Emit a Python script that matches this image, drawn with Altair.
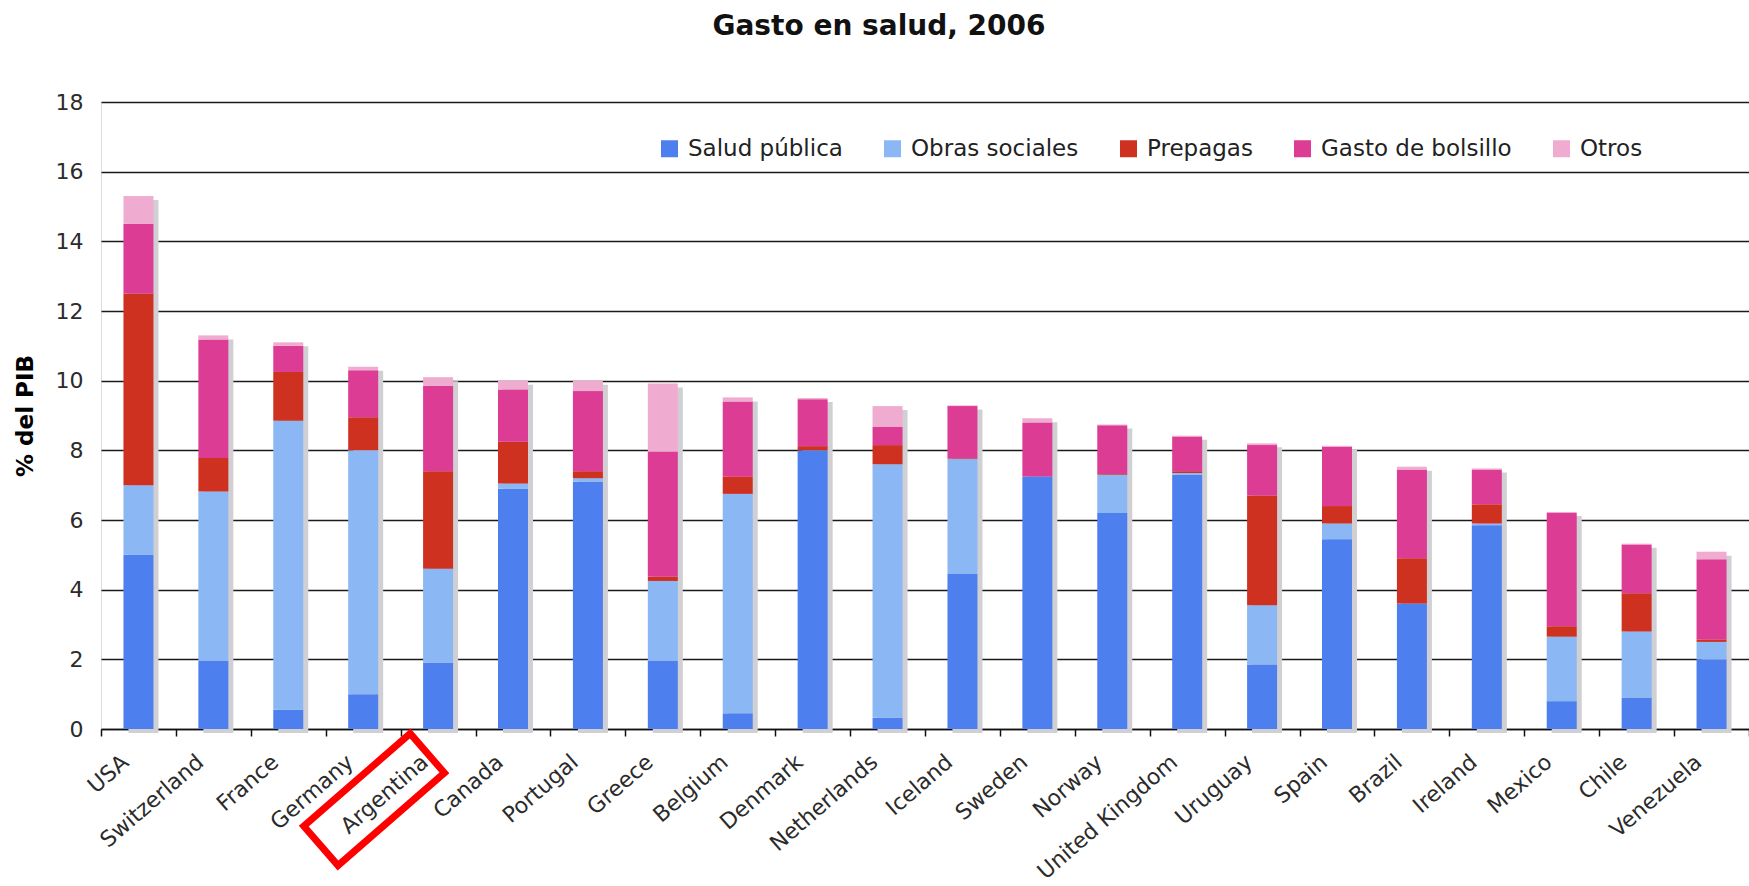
import altair as alt
import pandas as pd

countries = ["USA", "Switzerland", "France", "Germany", "Argentina", "Canada", "Portugal",
             "Greece", "Belgium", "Denmark", "Netherlands", "Iceland", "Sweden", "Norway",
             "United Kingdom", "Uruguay", "Spain", "Brazil", "Ireland", "Mexico", "Chile", "Venezuela"]
categories = ["Salud pública", "Obras sociales", "Prepagas", "Gasto de bolsillo", "Otros"]
colors = ["#4d7fee", "#8bb7f4", "#cf3121", "#dc3c93", "#efacd0"]

salud_publica = [5.0, 1.95, 0.55, 1.0, 1.9, 6.9, 7.1, 1.95, 0.45, 8.0, 0.32, 4.45, 7.25, 6.2, 7.3, 1.85, 5.45, 3.6, 5.85, 0.8, 0.9, 2.0]
obras_sociales = [2.0, 4.87, 8.3, 7.0, 2.7, 0.15, 0.1, 2.3, 6.3, 0.0, 7.28, 3.3, 0.0, 1.1, 0.05, 1.7, 0.45, 0.0, 0.05, 1.85, 1.9, 0.5]
prepagas = [5.5, 0.96, 1.4, 0.95, 2.8, 1.2, 0.2, 0.12, 0.5, 0.12, 0.55, 0.02, 0.0, 0.02, 0.05, 3.15, 0.5, 1.3, 0.55, 0.3, 1.1, 0.07]
gasto_bolsillo = [2.0, 3.4, 0.75, 1.35, 2.45, 1.5, 2.3, 3.6, 2.15, 1.35, 0.52, 1.5, 1.55, 1.4, 1.0, 1.45, 1.7, 2.55, 1.0, 3.25, 1.4, 2.3]
otros = [0.8, 0.12, 0.1, 0.1, 0.25, 0.25, 0.3, 1.95, 0.12, 0.03, 0.6, 0.02, 0.12, 0.02, 0.02, 0.05, 0.03, 0.08, 0.03, 0.03, 0.02, 0.22]
y_ticks = [0, 2, 4, 6, 8, 10, 12, 14, 16, 18]

series = [salud_publica, obras_sociales, prepagas, gasto_bolsillo, otros]
rows = []
for i, c in enumerate(countries):
    for j, (cat, arr) in enumerate(zip(categories, series)):
        rows.append({"pais": c, "tipo": cat, "orden": j, "valor": arr[i]})
df = pd.DataFrame(rows)
tot = pd.DataFrame({"pais": countries, "valor": [round(sum(v), 3) for v in zip(*series)]})

FONT = "DejaVu Sans"

xenc = alt.X("pais:N", sort=countries,
             scale=alt.Scale(paddingInner=0, paddingOuter=0),
             axis=alt.Axis(title=None, labelAngle=-41, labelAlign="right", labelBaseline="top",
                           labelFontSize=22, labelFont=FONT, labelColor="#2b2b2b",
                           tickBand="extent", tickSize=7, tickColor="#111", tickWidth=1.5,
                           domainColor="#111", domainWidth=1.5,
                           labelPadding=15, labelOffset=-20, grid=False))

yscale = alt.Scale(domain=[0, 18], nice=False)
yaxis = alt.Axis(values=y_ticks, title="% del PIB", titleFont=FONT, titleFontSize=23,
                 titleFontWeight="bold", titleColor="#000", titlePadding=18,
                 labelFont=FONT, labelFontSize=22, labelColor="#2b2b2b", labelPadding=18,
                 ticks=False, domain=False, gridColor="#1a1a1a", gridWidth=1.5)

shadow = alt.Chart(tot).mark_bar(width=30, xOffset=5, yOffset=4, color="#cfcfd4").encode(
    x=xenc,
    y=alt.Y("valor:Q", scale=yscale, axis=yaxis),
)

bars = alt.Chart(df).mark_bar(width=30).encode(
    x=xenc,
    y=alt.Y("valor:Q", stack="zero", scale=yscale, axis=yaxis),
    color=alt.Color("tipo:N", sort=categories,
                    scale=alt.Scale(domain=categories, range=colors),
                    legend=alt.Legend(title=None, orient="none", legendX=557, legendY=35,
                                      direction="horizontal", columns=5,
                                      labelFontSize=23, labelFont=FONT, labelColor="#222",
                                      labelLimit=500,
                                      symbolType="square", symbolSize=289, symbolStrokeWidth=0,
                                      symbolOpacity=1, labelOffset=7, columnPadding=38,
                                      padding=0)),
    order=alt.Order("orden:Q", sort="ascending"),
)

annot = alt.Chart(pd.DataFrame({"pais": ["Argentina"]})).mark_point(
    shape="M-1,-0.37L1,-0.37L1,0.37L-1,0.37Z", size=19881, angle=319,
    filled=False, stroke="#ff0000", strokeWidth=7, opacity=1, xOffset=-64
).encode(
    x=xenc,
    y=alt.value(697.5),
)

chart = alt.layer(shadow, bars, annot).properties(
    width=1648, height=627,
    title=alt.TitleParams("Gasto en salud, 2006", font=FONT, fontSize=28, fontWeight="bold",
                          color="#111", anchor="middle", dx=-46, offset=50),
    autosize=alt.AutoSizeParams(type="none"),
    padding={"left": 101, "top": 102, "right": 0, "bottom": 157},
).configure_view(stroke="transparent", strokeOpacity=0).configure_axisY(domain=False).configure(background="white")

chart.save("out.html", embed_options={"renderer": "svg", "actions": False})
